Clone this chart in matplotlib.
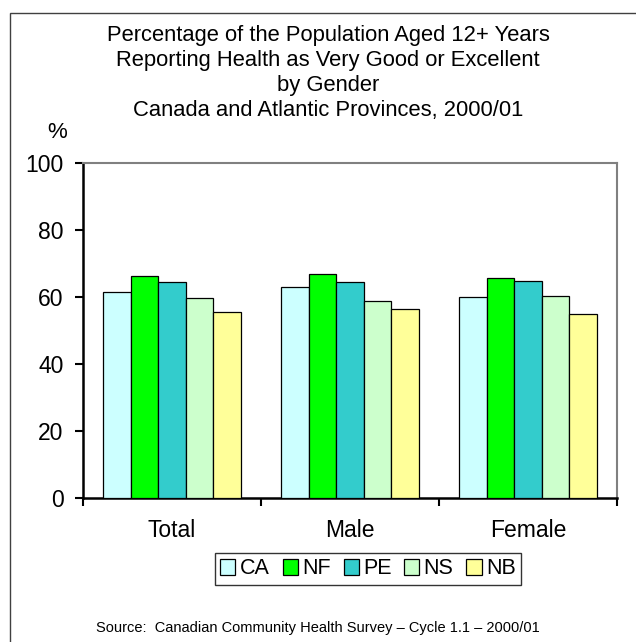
import numpy as np
import matplotlib
matplotlib.use('Agg')
import matplotlib.pyplot as plt
from matplotlib.patches import Rectangle

groups = ['Total', 'Male', 'Female']
provinces = ['CA', 'NF', 'PE', 'NS', 'NB']
values = {
    'CA': [61.5, 63.0, 60.0],
    'NF': [66.3, 66.8, 65.8],
    'PE': [64.6, 64.4, 64.7],
    'NS': [59.6, 58.8, 60.4],
    'NB': [55.6, 56.4, 54.9],
}
colors = ['#CCFFFF', '#00FF00', '#33CCCC', '#CCFFCC', '#FFFF99']

plt.rcParams['font.family'] = ['Liberation Sans', 'DejaVu Sans']

fig = plt.figure(figsize=(6.36, 6.42), dpi=100)
W, H = 636, 642
ax = fig.add_axes([83 / W, 1 - 498 / H, (617 - 83) / W, (498 - 163) / H])

# outer frame
fig.patches.append(Rectangle((10 / W, -0.1), 1.2, 1 - 13 / H + 0.1, transform=fig.transFigure,
                             fill=False, edgecolor='#404040', linewidth=1.0))

x = np.arange(len(groups))
width = 0.155
for i, p in enumerate(provinces):
    ax.bar(x + (i - 2) * width, values[p], width, color=colors[i],
           edgecolor='black', linewidth=0.9, label=p, zorder=3)

ax.set_xlim(-0.5, 2.5)
ax.set_ylim(0, 100)
ax.set_yticks(range(0, 101, 20))
ax.set_xticks([-0.5, 0.5, 1.5, 2.5])
ax.set_xticklabels([])
ax.set_xticks(x, minor=True)
ax.set_xticklabels(groups, minor=True, fontsize=16.5)
ax.tick_params(axis='x', which='minor', length=0, pad=15)
ax.tick_params(axis='x', which='major', length=6, width=1.5, direction='out')
ax.tick_params(axis='y', length=6, width=1.5, direction='out', labelsize=16.5, pad=8)

for s in ['left', 'bottom']:
    ax.spines[s].set_linewidth(1.8)
    ax.spines[s].set_color('black')
for s in ['top', 'right']:
    ax.spines[s].set_linewidth(1.5)
    ax.spines[s].set_color('#808080')

fig.text(57 / W, 1 - 132 / H, '%', fontsize=16, ha='center', va='center')

title = ('Percentage of the Population Aged 12+ Years\n'
         'Reporting Health as Very Good or Excellent\n'
         'by Gender\n'
         'Canada and Atlantic Provinces, 2000/01')
fig.text(328 / W, 1 - 73 / H, title, fontsize=15.8, ha='center', va='center',
         linespacing=1.26)

leg = ax.legend(loc='center', bbox_to_anchor=(368 / W, 1 - 569 / H),
                bbox_transform=fig.transFigure, ncol=5, fontsize=15.5,
                frameon=True, fancybox=False, handlelength=0.7, handleheight=0.7,
                handletextpad=0.2, columnspacing=0.6, borderpad=0.25)
leg.get_frame().set_edgecolor('black')
leg.get_frame().set_linewidth(1.0)

fig.text(318 / W, 1 - 628 / H,
         'Source:  Canadian Community Health Survey \u2013 Cycle 1.1 \u2013 2000/01',
         fontsize=10.5, ha='center', va='center')

fig.savefig('out.png', dpi=100)
